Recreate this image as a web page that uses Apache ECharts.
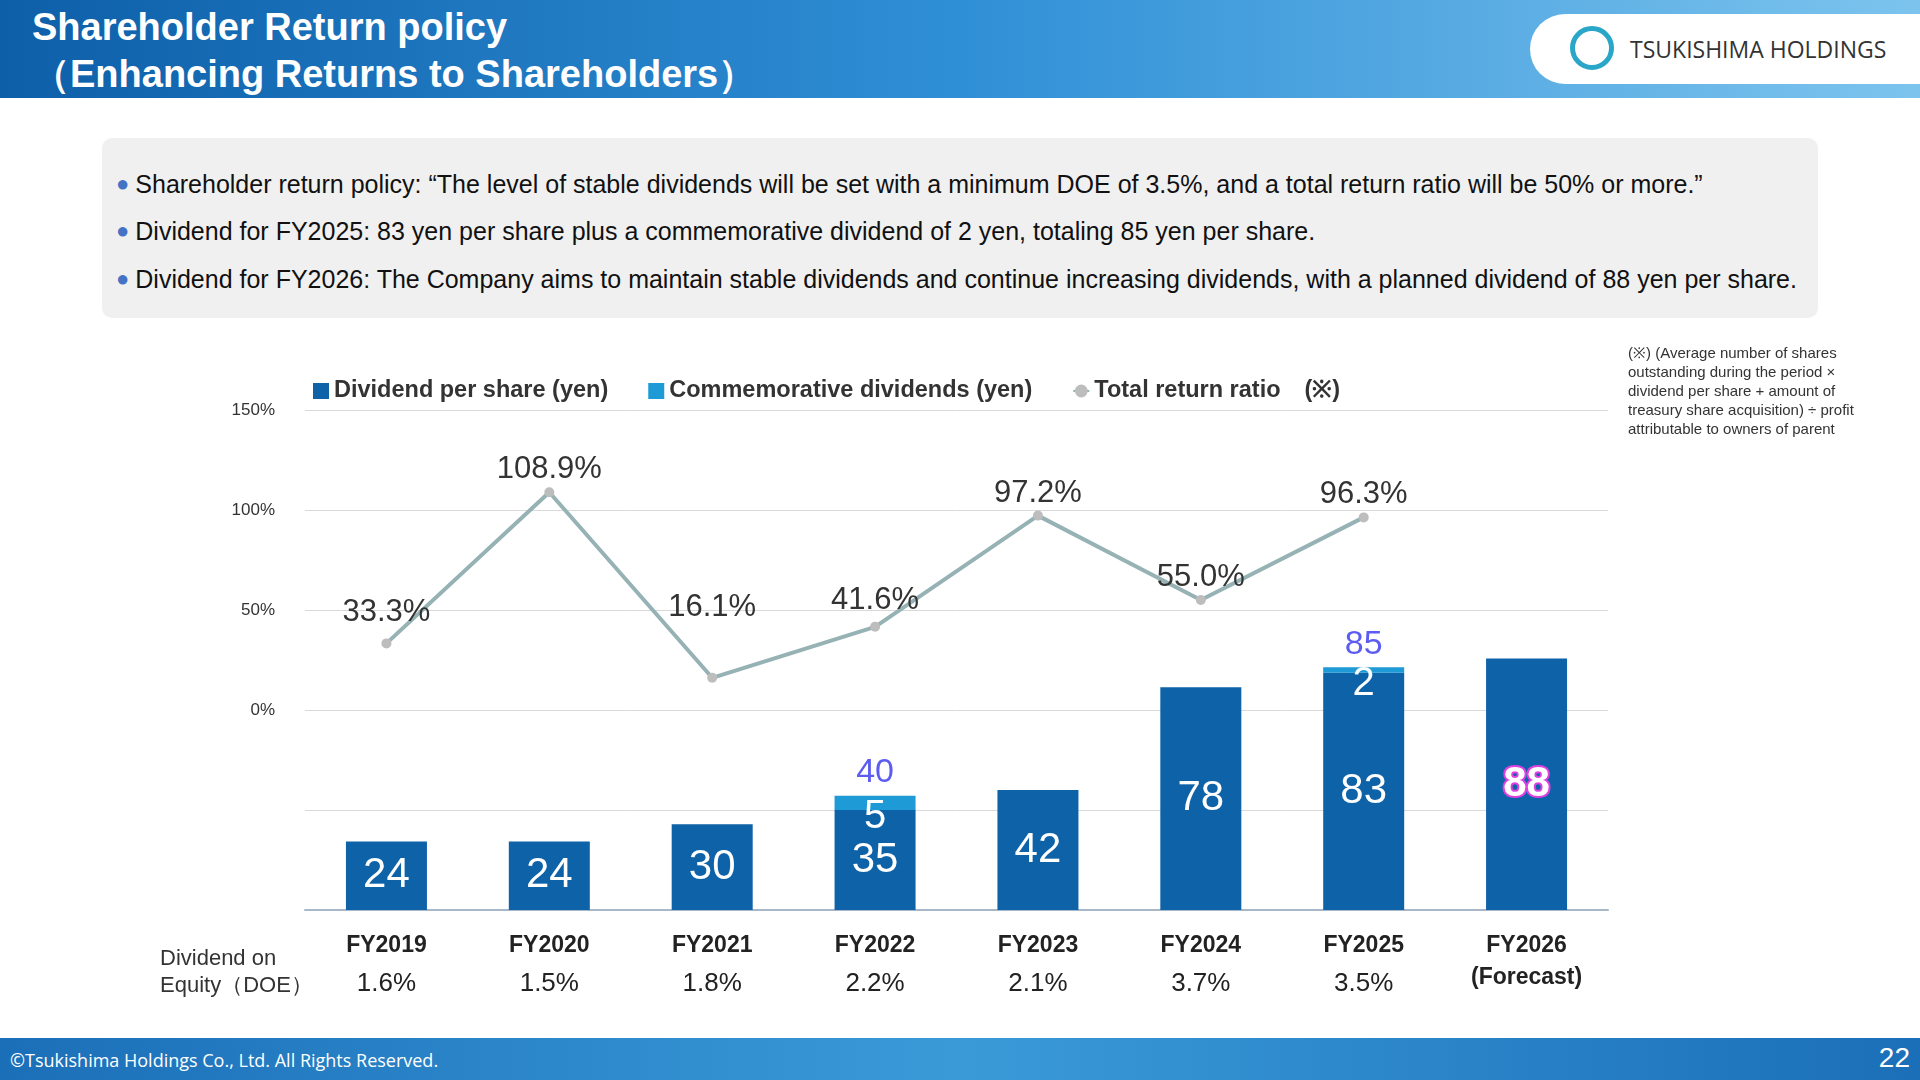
<!DOCTYPE html>
<html><head><meta charset="utf-8">
<script src="https://cdn.jsdelivr.net/npm/echarts@6/dist/echarts.min.js"></script>
<style>
html,body{margin:0;padding:0;width:1920px;height:1080px;overflow:hidden;background:#fff;font-family:"Liberation Sans",Arial,sans-serif}
#head{position:absolute;left:0;top:0;width:1920px;height:98px;background:linear-gradient(90deg,#0d5fa8 0%,#2f8fd6 50%,#7cc4ee 100%)}
#title{position:absolute;left:32px;top:4px;color:#fff;font-weight:bold;font-size:38px;line-height:47px}
#logo{position:absolute;right:0;top:14px;width:390px;height:70px;background:#fff;border-radius:35px 0 0 35px;font-family:"Open Sans";font-size:23px;color:#333;line-height:70px}
#logo span{position:absolute;left:100px}
#logo i{position:absolute;left:40px;top:12px;width:44px;height:44px;border-radius:50%;border:5px solid #2aa6c9;box-sizing:border-box}
#box{position:absolute;left:102px;top:138px;width:1716px;height:180px;background:#f0f0f0;border-radius:10px}
#box p{margin:0;position:absolute;left:14px;font-size:25px;color:#111;white-space:nowrap}
#box b{color:#4472c4;font-size:22px;margin-right:6px;position:relative;top:-2px}
#foot{position:absolute;left:0;top:1038px;width:1920px;height:42px;background:linear-gradient(90deg,#1b6fb8,#3a9ad8,#1b6fb8);color:#fff}
#chart{position:absolute;left:0;top:0;width:1920px;height:1080px}
</style></head><body>
<div id="head"><div id="title">Shareholder Return policy<br>（Enhancing Returns to Shareholders）</div>
<div id="logo"><i></i><span>TSUKISHIMA HOLDINGS</span></div></div>
<div id="box">
<p style="top:32px"><b>●</b>Shareholder return policy: “The level of stable dividends will be set with a minimum DOE of 3.5%, and a total return ratio will be 50% or more.”</p>
<p style="top:79px"><b>●</b>Dividend for FY2025: 83 yen per share plus a commemorative dividend of 2 yen, totaling 85 yen per share.</p>
<p style="top:127px"><b>●</b>Dividend for FY2026: The Company aims to maintain stable dividends and continue increasing dividends, with a planned dividend of 88 yen per share.</p>
</div>
<div id="foot"><span style="position:absolute;left:10px;top:10px;font-size:18px;font-family:'Open Sans'">©Tsukishima Holdings Co., Ltd. All Rights Reserved.</span><span style="position:absolute;right:10px;top:4px;font-size:28px">22</span></div>
<div id="chart"></div>
<script>
const categories = ['FY2019','FY2020','FY2021','FY2022','FY2023','FY2024','FY2025','FY2026'];
const doe = ['1.6%','1.5%','1.8%','2.2%','2.1%','3.7%','3.5%',''];
const dividend = [24,24,30,35,42,78,83,88];
const commemorative = [null,null,null,5,null,null,2,null];
const totals = [null,null,null,40,null,null,85,null];
const returnRatio = [33.3,108.9,16.1,41.6,97.2,55.0,96.3,null];

const chart = echarts.init(document.getElementById('chart'));
chart.setOption({
  animation:false,
  textStyle:{fontFamily:'Liberation Sans'},
  legend:{top:374,left:308,itemGap:40,itemWidth:16,itemHeight:16,
    textStyle:{fontSize:23.5,fontWeight:'bold',color:'#333'},
    data:[{name:'Dividend per share (yen)',icon:'rect'},{name:'Commemorative dividends (yen)',icon:'rect'},
      {name:'Total return ratio　(※)',itemStyle:{color:'#bdbdbd'}}]},
  grid:{left:305,right:312,top:410,bottom:170},
  xAxis:{type:'category',data:categories,
    axisLine:{onZero:false,lineStyle:{color:'#a8b8c8',width:2}},axisTick:{show:false},
    axisLabel:{margin:20,interval:0,lineHeight:40,
      formatter:(v,i)=>v==='FY2026'?'{b|FY2026}\n{b|(Forecast)}':'{b|'+v+'}\n{d|'+doe[i]+'}',
      rich:{b:{fontSize:23,fontWeight:'bold',color:'#222',lineHeight:32},
            d:{fontSize:26,color:'#222',lineHeight:44}}}},
  yAxis:[
    {type:'value',min:-100,max:150,interval:50,
      axisLabel:{fontSize:17,color:'#333',margin:30,formatter:v=>v<0?'':v+'%'},
      splitLine:{lineStyle:{color:'#d9d9d9'}}},
    {type:'value',min:0,max:175,show:false,splitLine:{show:false}}
  ],
  series:[
    {name:'Dividend per share (yen)',type:'bar',yAxisIndex:1,stack:'d',barWidth:81,
      data:dividend.map((v,i)=>i===7?{value:v,label:{color:'#fff',textBorderColor:'#e040e0',textBorderWidth:4,fontWeight:'bold'}}:v),
      itemStyle:{color:'#0e62a8'},
      label:{show:true,position:'inside',fontSize:42,color:'#fff'}},
    {name:'Commemorative dividends (yen)',type:'bar',yAxisIndex:1,stack:'d',barWidth:81,data:commemorative,
      itemStyle:{color:'#1e9ad6'},
      label:{show:true,position:'inside',fontSize:40,color:'#fff',offset:[0,14]}},
    {name:'tot',type:'scatter',yAxisIndex:1,symbolSize:0,data:totals,
      label:{show:true,position:'top',distance:6,fontSize:34,color:'#3333ee',formatter:p=>p.value}},
    {name:'Total return ratio　(※)',type:'line',data:returnRatio,symbol:'circle',symbolSize:10,
      lineStyle:{color:'#96b2b4',width:4},itemStyle:{color:'#bdbdbd'},
      label:{show:true,fontSize:31,color:'#333',formatter:p=>p.value.toFixed(1)+'%',position:'top',distance:10},
      labelLayout:p=>{
        const off=[[0,0],[0,8],[0,-40],[0,4],[0,8],[0,8],[0,8]][p.dataIndex]||[0,0];
        return {dx:off[0],dy:off[1]};
      }}
  ],
  graphic:[
    {type:'text',left:160,top:945,style:{text:'Dividend on\nEquity（DOE）',fontSize:22,fill:'#333',align:'center',lineHeight:27}},
    {type:'text',left:1628,top:344,style:{text:'(※) (Average number of shares\noutstanding during the period ×\ndividend per share + amount of\ntreasury share acquisition) ÷ profit\nattributable to owners of parent',fontSize:15,fill:'#333',lineHeight:19}}
  ]
});
</script>
</body></html>
